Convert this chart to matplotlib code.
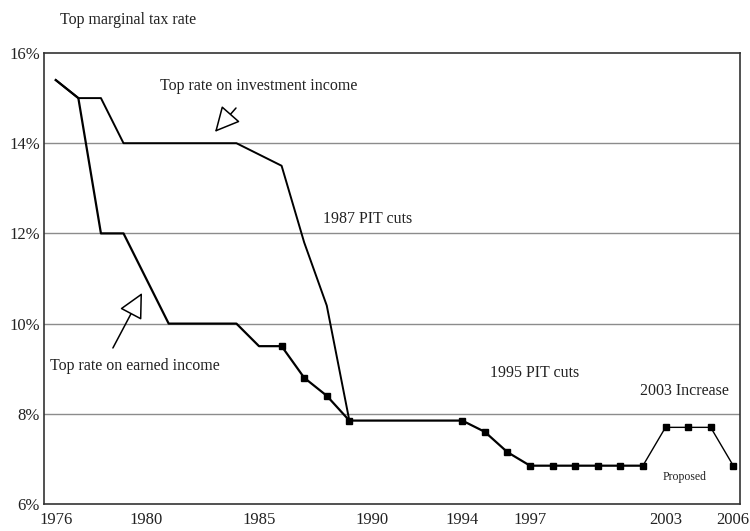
import matplotlib
matplotlib.use("Agg")
import matplotlib.pyplot as plt

plt.rcParams['font.family'] = ['Liberation Serif', 'DejaVu Serif']

# top rate on investment income
inv_years = [1976, 1977, 1978, 1979, 1980, 1981, 1982, 1983, 1984, 1985, 1986, 1987, 1988, 1989]
inv_rate = [15.4, 15.0, 15.0, 14.0, 14.0, 14.0, 14.0, 14.0, 14.0, 13.75, 13.5, 11.8, 10.4, 7.85]

# top rate on earned income (merges with investment rate from 1989)
earn_years = [1976, 1977, 1978, 1979, 1980, 1981, 1982, 1983, 1984, 1985, 1986, 1987, 1988, 1989,
              1994, 1995, 1996, 1997, 1998, 1999, 2000, 2001, 2002]
earn_rate = [15.4, 15.0, 12.0, 12.0, 11.0, 10.0, 10.0, 10.0, 10.0, 9.5, 9.5, 8.8, 8.4, 7.85,
             7.85, 7.6, 7.15, 6.85, 6.85, 6.85, 6.85, 6.85, 6.85]

# proposed path
prop_years = [2002, 2003, 2004, 2005, 2006]
prop_rate = [6.85, 7.7, 7.7, 7.7, 6.85]

marker_from = 1986

xticks = [1976, 1980, 1985, 1990, 1994, 1997, 2003, 2006]
yticks = [6, 8, 10, 12, 14, 16]

fig = plt.figure(figsize=(7.5, 5.31), dpi=100)
ax = fig.add_axes([0.0587, 0.0508, 0.928, 0.8494])

for y in yticks[1:-1]:
    ax.axhline(y, color='#8c8c8c', lw=1.0, zorder=1)

ax.plot(inv_years, inv_rate, color='black', lw=1.4, zorder=3)
ax.plot(earn_years, earn_rate, color='black', lw=1.6, zorder=3)
ax.plot(prop_years, prop_rate, color='black', lw=1.0, zorder=3)

mx = [y for y in earn_years if y >= marker_from] + prop_years[1:]
my = [r for y, r in zip(earn_years, earn_rate) if y >= marker_from] + prop_rate[1:]
ax.plot(mx, my, ls='none', marker='s', ms=4, color='black', zorder=4)

ax.set_xlim(1975.48, 2006.3)
ax.set_ylim(6, 16)
ax.set_xticks(xticks)
ax.set_xticklabels([str(x) for x in xticks])
ax.set_yticks(yticks)
ax.set_yticklabels([f"{y}%" for y in yticks])
ax.tick_params(length=0, labelsize=12, colors='#222222')
ax.tick_params(axis='y', pad=3)
ax.tick_params(axis='x', pad=6)
for s in ax.spines.values():
    s.set_color('#333333')
    s.set_linewidth(1.2)

fig.text(0.08, 0.962, "Top marginal tax rate", fontsize=11.5, va='center', ha='left', color='#222222')

txt = dict(fontsize=11.5, color='#222222', va='center', ha='left')
ax.text(1980.62, 15.27, "Top rate on investment income", **txt)
ax.text(1987.83, 12.32, "1987 PIT cuts", **txt)
ax.text(1975.74, 9.06, "Top rate on earned income", **txt)
ax.text(1995.23, 8.90, "1995 PIT cuts", **txt)
ax.text(2001.87, 8.51, "2003 Increase", **txt)
ax.text(2002.89, 6.60, "Proposed", fontsize=8.5, color='#222222', va='center', ha='left')

arrow = dict(arrowstyle='-|>,head_length=1.3,head_width=0.65', fc='white', ec='black',
             lw=1.1, mutation_scale=12, shrinkA=0, shrinkB=0)
ax.annotate("", xy=(1983.05, 14.25), xytext=(1983.98, 14.78), arrowprops=arrow)
ax.annotate("", xy=(1979.82, 10.68), xytext=(1978.53, 9.46), arrowprops=arrow)

fig.savefig("out.png", dpi=100)
